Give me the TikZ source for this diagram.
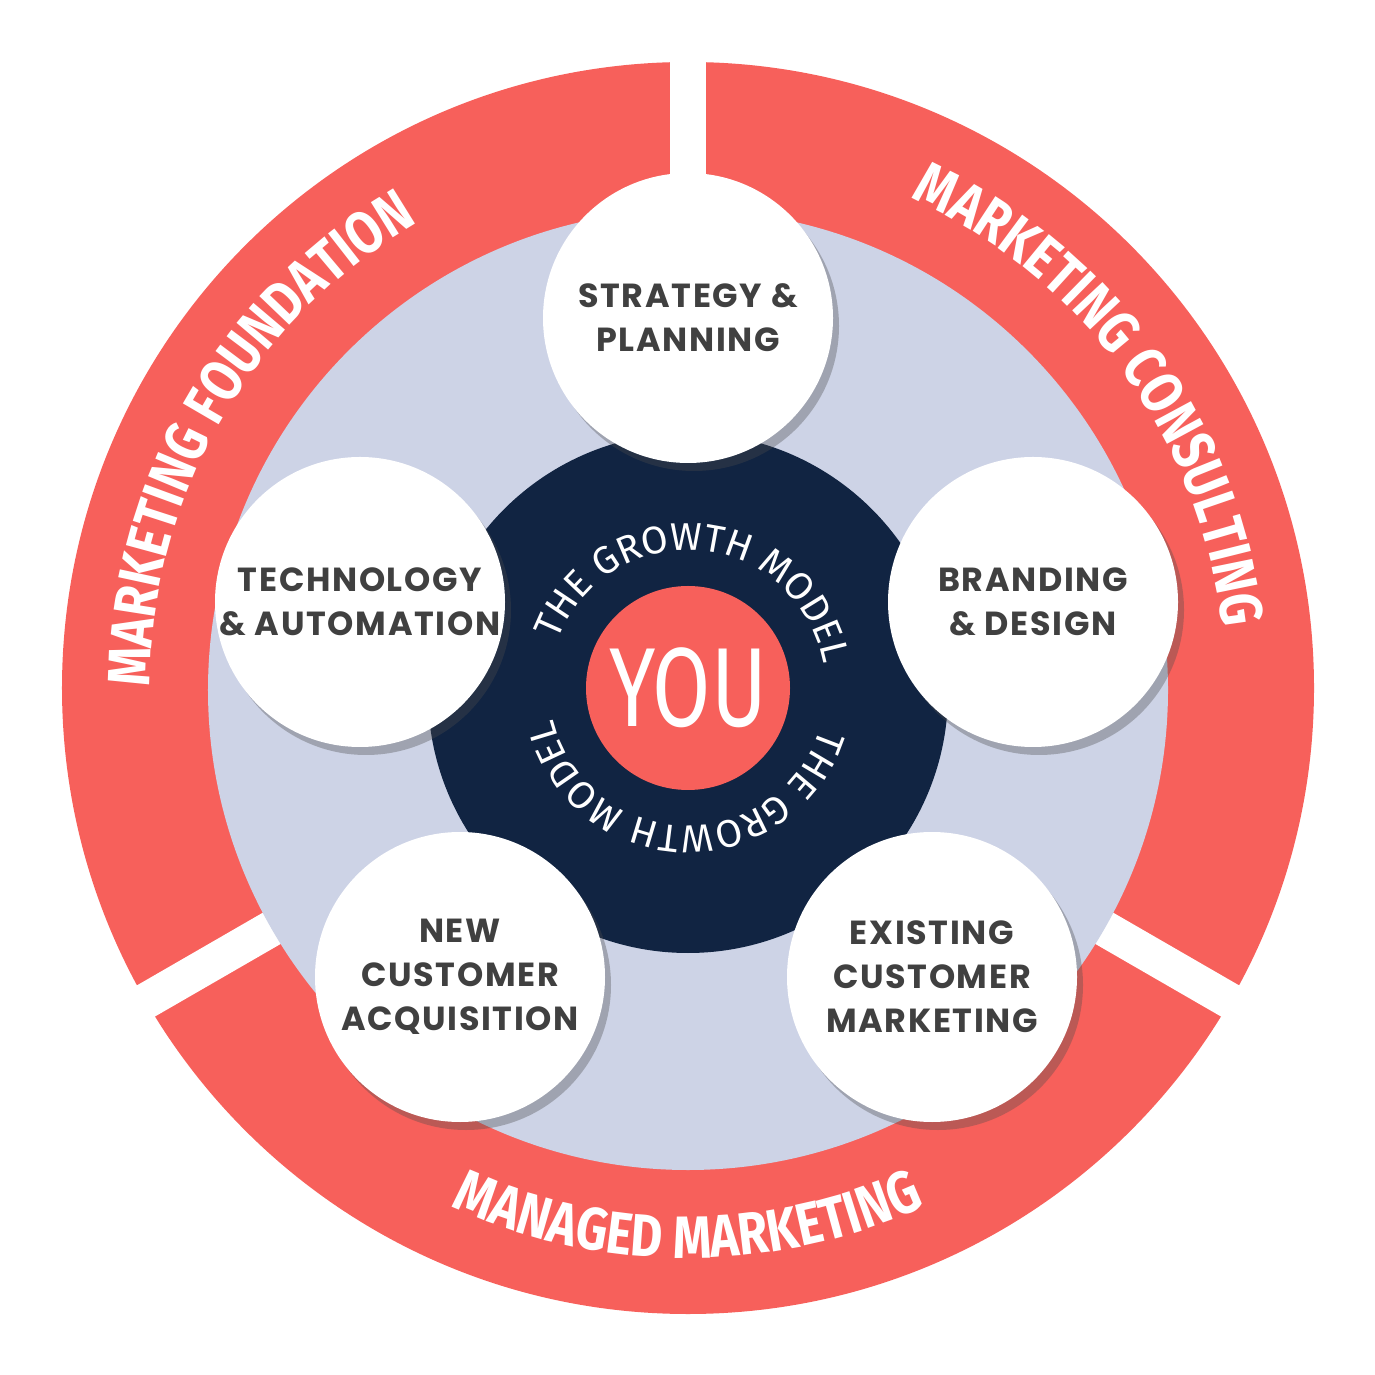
\documentclass[tikz,border=0pt]{standalone}
\usepackage{fontspec}
\setmainfont{Fira Sans}
\newfontfamily\ringfont{Fira Sans}[FakeStretch=0.82]
\newfontfamily\boxfont{Poppins}[LetterSpace=5]
\newfontfamily\youfont{Fira Sans}[FakeStretch=0.75]
\usetikzlibrary{calc}
\usetikzlibrary{shadows}
\usetikzlibrary{decorations.text}
\usetikzlibrary{positioning}
\definecolor{growth-red}{RGB}{247, 96, 91}
\definecolor{growth-blue}{RGB}{205, 211, 230}
\definecolor{growth-navy}{RGB}{17, 36, 66}
\definecolor{growth-grey}{RGB}{64, 64, 64}
\tikzset{
  area/.style={circle, fill=white, minimum size=2.9cm, inner sep=0pt, align=center,
    font=\boxfont\bfseries\fontsize{9.5}{12.5}\selectfont, text=growth-grey,
    drop shadow={shadow xshift=0.06cm, shadow yshift=-0.08cm, opacity=0.35, fill=black!70}},
  ringtext/.style={decorate, decoration={text along path, text align=center,
    text color=white, text={|\ringfont\bfseries\fontsize{17}{20}\selectfont|#1}}},
  innertext/.style={decorate, decoration={text along path, text align=center,
    text color=white, text={|\fontsize{11}{12}\selectfont|#1}}}
}
\begin{document}
\begin{tikzpicture}
\useasboundingbox (-6.88,-6.87) rectangle (6.87,6.88);
% outer ring with gaps
\filldraw[fill=growth-red, draw=none] (0,0) circle (6.26);
\foreach \a in {90,210,330}
  \draw[white, line width=0.36cm] (\a:4.5) -- (\a:6.5);
\filldraw[fill=growth-blue, draw=none] (0,-0.02) circle (4.8);
\filldraw[fill=growth-navy, draw=none] (0,-0.05) circle (2.6);
\node[circle, fill=growth-red, minimum size=2.04cm, inner sep=0pt,
  text=white, font=\youfont\fontsize{32}{34}\selectfont] (you) at (0,0) {YOU};

% ring labels
\path[ringtext={MARKETING FOUNDATION}] (200:5.38) arc (200:100:5.38);
\path[ringtext={MARKETING CONSULTING}] (86:5.38) arc (86:-14:5.38);
\path[ringtext={MANAGED MARKETING}] (225:5.7) arc (225:315:5.7);

% the growth model
\path[innertext={THE GROWTH MODEL}] (175:1.38) arc (175:-5:1.38);
\path[innertext={THE GROWTH MODEL}] (-2:1.38) arc (-2:-182:1.38);

% areas
\node[area] (strategy) at (0,3.7) {STRATEGY \&\\PLANNING};
\node[area] (branding) at (3.45,0.86) {BRANDING\\\& DESIGN};
\node[area] (technology) at (-3.28,0.86) {TECHNOLOGY\\\& AUTOMATION};
\node[area] (newcust) at (-2.28,-2.89) {NEW\\CUSTOMER\\ACQUISITION};
\node[area] (existing) at (2.44,-2.89) {EXISTING\\CUSTOMER\\MARKETING};
\end{tikzpicture}
\end{document}
